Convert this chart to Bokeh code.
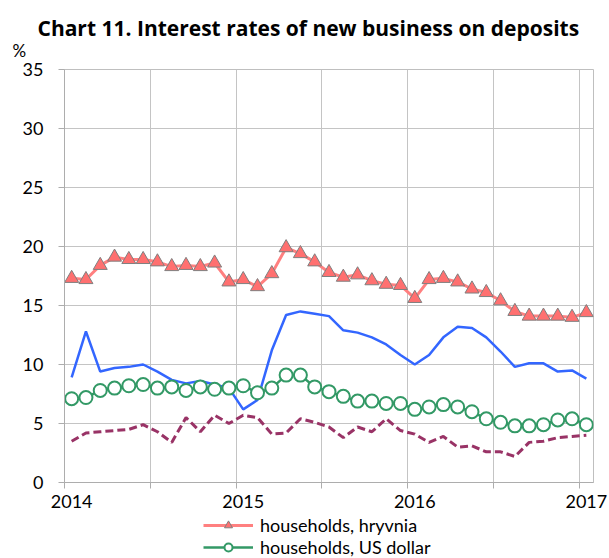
from bokeh.plotting import figure
from bokeh.layouts import column
from bokeh.models import FixedTicker, LinearAxis, Range1d, Legend, LegendItem, Title
from bokeh.embed import file_html
from bokeh.resources import INLINE

# ---- data -------------------------------------------------------------
months = [f"{y}-{m:02d}" for y in (2014, 2015, 2016) for m in range(1, 13)] + ["2017-01"]

hh_uah = [17.3, 17.2, 18.4, 19.1, 18.9, 18.9, 18.7, 18.3, 18.4, 18.3, 18.6, 17.0,
          17.2, 16.6, 17.7, 19.9, 19.4, 18.7, 17.8, 17.4, 17.6, 17.1, 16.8, 16.7,
          15.6, 17.2, 17.3, 17.0, 16.4, 16.1, 15.4, 14.5, 14.1, 14.1, 14.1, 14.0,
          14.4]
hh_usd = [7.1, 7.2, 7.8, 8.0, 8.2, 8.3, 8.0, 8.1, 7.8, 8.1, 7.9, 8.0,
          8.2, 7.6, 8.0, 9.1, 9.1, 8.1, 7.7, 7.3, 6.9, 6.9, 6.7, 6.7,
          6.2, 6.4, 6.6, 6.4, 6.0, 5.4, 5.1, 4.8, 4.8, 4.9, 5.3, 5.4,
          4.9]
corp_uah = [8.9, 12.8, 9.4, 9.7, 9.8, 10.0, 9.4, 8.7, 8.4, 8.6, 8.3, 8.0,
            6.2, 7.0, 11.2, 14.2, 14.5, 14.3, 14.1, 12.9, 12.7, 12.3, 11.7, 10.8,
            10.0, 10.8, 12.3, 13.2, 13.1, 12.3, 11.1, 9.8, 10.1, 10.1, 9.4, 9.5,
            8.8]
corp_usd = [3.5, 4.2, 4.3, 4.4, 4.5, 4.9, 4.3, 3.4, 5.5, 4.3, 5.7, 5.0,
            5.7, 5.5, 4.1, 4.2, 5.4, 5.1, 4.7, 3.8, 4.7, 4.3, 5.4, 4.4,
            4.1, 3.4, 3.9, 3.0, 3.1, 2.6, 2.6, 2.2, 3.4, 3.5, 3.8, 3.9,
            4.0]

year_labels = ["2014", "2015", "2016", "2017"]
y_ticks = [0, 5, 10, 15, 20, 25, 30, 35]
series_names = ["households, hryvnia", "households, US dollar"]
title_text = "Chart 11. Interest rates of new business on deposits"

# ---- styles -----------------------------------------------------------
FONT = "Lato"
UAH_LINE = dict(line_color="#FF8080", line_width=3)
UAH_MARK = dict(marker="triangle", size=14, fill_color="#FF7070",
                line_color="#7f7f7f", line_width=1)
USD_LINE = dict(line_color="#339966", line_width=2.5)
USD_MARK = dict(marker="circle", size=13, fill_color="white",
                line_color="#339966", line_width=2)

x = list(range(len(months)))

# ---- main chart -------------------------------------------------------
p = figure(frame_width=529, frame_height=413, output_backend="svg",
           toolbar_location=None, title_location=None,
           x_range=Range1d(-0.5, len(months) - 0.5), y_range=Range1d(0, 35),
           min_border_left=64, min_border_right=16, min_border_top=69,
           min_border_bottom=32)

p.add_layout(Title(text="%", align="left", offset=-52, text_font=FONT,
                   text_font_size="17px", text_font_style="normal",
                   text_color="#000000", standoff=17), "above")
p.add_layout(Title(text=title_text, align="left", offset=-27,
                   text_font="Open Sans", text_font_size="21px",
                   text_font_style="bold", text_color="#000000",
                   standoff=-25), "above")

p.outline_line_color = "#bfbfbf"
p.background_fill_color = "white"
p.border_fill_color = "white"

# y axis
p.yaxis.ticker = FixedTicker(ticks=y_ticks)
p.yaxis.major_label_text_font = FONT
p.yaxis.major_label_text_font_size = "18px"
p.yaxis.major_label_text_color = "#000000"
p.yaxis.axis_line_color = "#adadad"
p.yaxis.major_tick_line_color = "#adadad"
p.yaxis.major_tick_out = 6
p.yaxis.major_tick_in = 0
p.yaxis.minor_tick_line_color = None
p.yaxis.major_label_standoff = 15
p.ygrid.grid_line_color = "#c4c4c4"

# x axis (tick marks at half-year boundaries)
half_years = [i - 0.5 for i in range(0, len(months), 6)]
p.xaxis.ticker = FixedTicker(ticks=half_years)
p.xaxis.major_label_text_font_size = "1px"
p.xaxis.major_label_text_alpha = 0
p.xaxis.major_label_standoff = 0
p.xaxis.axis_line_color = "#adadad"
p.xaxis.major_tick_line_color = "#adadad"
p.xaxis.major_tick_out = 6
p.xaxis.major_tick_in = 0
p.xaxis.minor_tick_line_color = None
p.xgrid.grid_line_color = "#c4c4c4"

# year labels axis
year_pos = [months.index(f"{y}-01") for y in year_labels]
lab_axis = LinearAxis(ticker=FixedTicker(ticks=year_pos),
                      major_label_overrides={k: v for k, v in zip(year_pos, year_labels)},
                      axis_line_color=None, major_tick_line_color=None,
                      minor_tick_line_color=None, major_label_standoff=6,
                      major_tick_out=0, major_tick_in=0,
                      major_label_text_font=FONT, major_label_text_font_size="18px",
                      major_label_text_color="#000000")
p.add_layout(lab_axis, "below")

# series
p.line(x, corp_usd, line_color="#993366", line_width=3, line_dash="8 4")
p.line(x, corp_uah, line_color="#3366FF", line_width=2.5)
p.line(x, hh_usd, **USD_LINE)
p.scatter(x, hh_usd, **USD_MARK)
p.line(x, hh_uah, **UAH_LINE)
p.scatter(x, hh_uah, **UAH_MARK)

# ---- legend strip (series drawn out of view, only the key shows) -------
lg = figure(width=609, height=44, output_backend="svg", toolbar_location=None,
            title_location=None, x_axis_location=None, y_axis_location=None,
            x_range=Range1d(0, 1), y_range=Range1d(-1, 0),
            min_border=0, outline_line_color=None)
lg.grid.visible = False
lg.border_fill_color = "white"
k1 = lg.line(x, hh_uah, **UAH_LINE)
k2 = lg.scatter(x, hh_uah, **UAH_MARK)
k3 = lg.line(x, hh_usd, **USD_LINE)
k4 = lg.scatter(x, hh_usd, **USD_MARK)
legend = Legend(items=[LegendItem(label=series_names[0], renderers=[k1, k2]),
                       LegendItem(label=series_names[1], renderers=[k3, k4])],
                location=(139, 0), border_line_color=None,
                background_fill_alpha=0, padding=0, margin=0, spacing=0,
                glyph_width=50, glyph_height=20, label_height=20,
                label_standoff=7, label_text_font=FONT,
                label_text_font_size="18px", label_text_color="#000000")
lg.add_layout(legend)

layout = column(p, lg, spacing=0)
open("out.html", "w").write(file_html(layout, INLINE))
